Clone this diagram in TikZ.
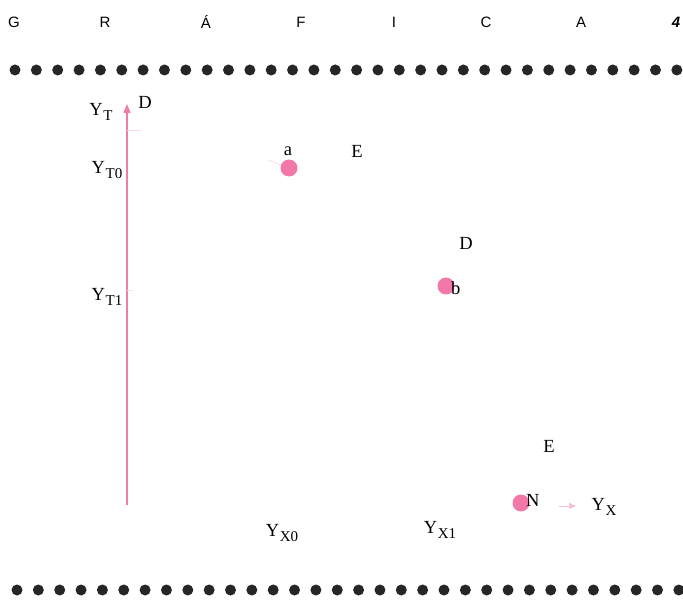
\documentclass[tikz,border=0pt]{standalone}
\usepackage{fontspec}
\setmainfont{Liberation Serif}
\newfontfamily\hdfont{Liberation Sans}
\usetikzlibrary{arrows.meta}
\definecolor{pinkdot}{RGB}{242,120,170}
\definecolor{pinkline}{RGB}{238,125,170}
\tikzset{
  lbl/.style={font=\fontsize{18.5}{20}\selectfont, inner sep=0pt},
  hd/.style={font=\hdfont\fontsize{15}{17}\selectfont, inner sep=0pt},
  bdot/.style={circle, fill=black!85, inner sep=0pt, minimum width=10pt, minimum height=11pt},
  pdot/.style={circle, fill=pinkdot, inner sep=0pt, minimum size=17pt},
  axis/.style={draw=pinkline, line width=1.4pt, -{Triangle[length=9pt,width=7pt]}}
}
\newcommand{\ysub}[1]{Y\kern0.5pt\raisebox{-0.55ex}{\fontsize{15}{15}\selectfont #1}}
\begin{document}
\begin{tikzpicture}[x=1pt,y=-1pt]
\useasboundingbox (0,0) rectangle (683,601);
% header
\node[hd] (hG) at (14,22) {G};
\node[hd] (hR) at (105,22) {R};
\node[hd] (hA1) at (206,22) {Á};
\node[hd] (hF) at (301,22) {F};
\node[hd] (hI) at (394,22) {I};
\node[hd] (hC) at (486,22) {C};
\node[hd] (hA2) at (581,22) {A};
\node[hd, font=\hdfont\bfseries\itshape\fontsize{15}{17}\selectfont] (h4) at (676,22) {4};
% dotted rules
\foreach \i in {0,...,31}{
  \node[bdot] (t\i) at ({15+21.35*\i},70) {};
  \node[bdot] (u\i) at ({17+21.35*\i},590) {};
}
% vertical axis
\coordinate (ax0) at (127,505);
\coordinate (ax1) at (127,104);
\draw[axis] (ax0) -- (ax1);
\draw[pinkline!30, line width=0.5pt] (127,130) -- (141,130);
\draw[pinkline!25, line width=0.5pt] (127,290) -- (133,290);
\node[lbl] (YT) at (101,112) {\ysub{T}};
\node[lbl] (D1) at (145,102) {D};
\node[lbl] (YT0) at (107,170) {\ysub{T0}};
\node[lbl] (YT1) at (107,297) {\ysub{T1}};
% points
\node[pdot] (a) at (289,168) {};
\node[lbl] (la) at (288,151) {a};
\node[lbl] (E1) at (357,151) {E};
\draw[pinkline!40, line width=0.5pt] (268,160) -- (a);
\node[pdot] (b) at (446,286) {};
\node[lbl, anchor=west] (lb) at (451,288) {b};
\node[lbl] (D2) at (466,243) {D};
\node[pdot] (N) at (521,503) {};
\node[lbl, anchor=west] (lN) at (526,500) {N};
\node[lbl] (E2) at (549,446) {E};
\coordinate (xa0) at (559,506);
\coordinate (xa1) at (576,506);
\draw[pinkline!50, line width=0.7pt, -{Triangle[length=7pt,width=6pt]}] (xa0) -- (xa1);
\node[lbl] (YX) at (604,507) {\ysub{X}};
\node[lbl] (YX0) at (282,533) {\ysub{X0}};
\node[lbl] (YX1) at (440,530) {\ysub{X1}};
\end{tikzpicture}
\end{document}
